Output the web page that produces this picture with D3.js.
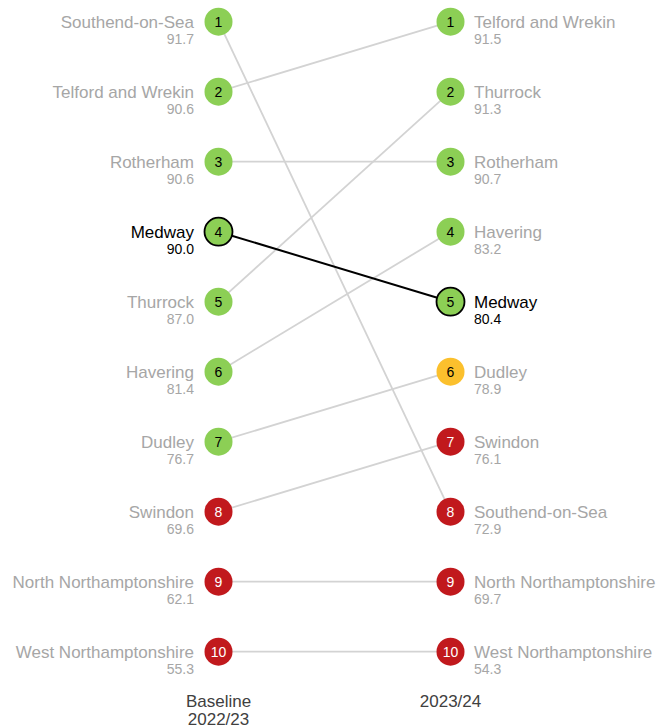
<!DOCTYPE html>
<html lang="en">
<head>
<meta charset="UTF-8">
<title>Slope chart</title>
<script src="https://cdn.jsdelivr.net/npm/d3@7"></script>
<style>
    body {
        margin: 0;
        background-color: white;
    }
    body * {
        font-family: "Liberation Sans", Arial, sans-serif;
    }
    .name { font-size: 17px; fill: #a6a6a6; }
    .value { font-size: 14px; fill: #a6a6a6; }
    .hl .name, .hl .value { fill: #000; }
    .rank { font-size: 14px; }
    .period { font-size: 17px; fill: #404040; }
</style>
</head>
<body>
<svg width="657" height="728"></svg>
<script>
    // authorities, in baseline order
    var authorities = ["Southend-on-Sea", "Telford and Wrekin", "Rotherham", "Medway", "Thurrock",
        "Havering", "Dudley", "Swindon", "North Northamptonshire", "West Northamptonshire"];
    var baseValue = [91.7, 90.6, 90.6, 90.0, 87.0, 81.4, 76.7, 69.6, 62.1, 55.3];
    var baseRank = [1, 2, 3, 4, 5, 6, 7, 8, 9, 10];
    var baseRag = ["G", "G", "G", "G", "G", "G", "G", "R", "R", "R"];
    var currValue = [72.9, 91.5, 90.7, 80.4, 91.3, 83.2, 78.9, 76.1, 69.7, 54.3];
    var currRank = [8, 1, 3, 5, 2, 4, 6, 7, 9, 10];
    var currRag = ["R", "G", "G", "G", "G", "G", "A", "R", "R", "R"];
    var periods = ["Baseline|2022/23", "2023/24"];
    var highlight = "Medway";

    var ragFill = {G: "#8ccf55", A: "#fbc02d", R: "#c1191d"};
    var ragText = {G: "#000", A: "#000", R: "#fff"};

    var svg = d3.select("svg");

    var getX = d3.scalePoint()
            .domain(periods)
            .range([218.5, 450.5]);
    var getY = d3.scaleLinear()
            .domain([1, 10])
            .range([21.7, 651.7]);

    var data = authorities.map(function (a, i) {
        return {
            name: a,
            pts: [
                {p: periods[0], rank: baseRank[i], value: baseValue[i], rag: baseRag[i]},
                {p: periods[1], rank: currRank[i], value: currValue[i], rag: currRag[i]}
            ]
        };
    });
    // draw highlighted last so it sits on top
    data.sort(function (a, b) {
        return (a.name === highlight) - (b.name === highlight);
    });

    svg.append("g").selectAll("line")
            .data(data)
            .enter()
            .append("line")
            .attr("x1", function (d) { return getX(d.pts[0].p); })
            .attr("y1", function (d) { return getY(d.pts[0].rank); })
            .attr("x2", function (d) { return getX(d.pts[1].p); })
            .attr("y2", function (d) { return getY(d.pts[1].rank); })
            .attr("stroke", function (d) { return d.name === highlight ? "#000" : "#d3d3d3"; })
            .attr("stroke-width", function (d) { return d.name === highlight ? 2 : 1.8; });

    var points = [];
    data.forEach(function (d) {
        d.pts.forEach(function (p, j) {
            points.push({name: d.name, side: j, p: p.p, rank: p.rank, value: p.value, rag: p.rag});
        });
    });

    var g = svg.append("g").selectAll("g")
            .data(points)
            .enter()
            .append("g")
            .attr("class", function (d) { return d.name === highlight ? "hl" : null; })
            .attr("transform", function (d) {
                return "translate(" + getX(d.p) + "," + getY(d.rank) + ")";
            });

    g.append("circle")
            .attr("r", 14)
            .attr("fill", function (d) { return ragFill[d.rag]; })
            .attr("stroke", function (d) { return d.name === highlight ? "#000" : "none"; })
            .attr("stroke-width", 1.8);

    g.append("text")
            .attr("class", "rank")
            .attr("text-anchor", "middle")
            .attr("dy", "0.36em")
            .attr("fill", function (d) { return ragText[d.rag]; })
            .text(function (d) { return d.rank; });

    g.append("text")
            .attr("class", "name")
            .attr("text-anchor", function (d) { return d.side === 0 ? "end" : "start"; })
            .attr("x", function (d) { return d.side === 0 ? -24.5 : 23.5; })
            .attr("y", 6)
            .text(function (d) { return d.name; });

    g.append("text")
            .attr("class", "value")
            .attr("text-anchor", function (d) { return d.side === 0 ? "end" : "start"; })
            .attr("x", function (d) { return d.side === 0 ? -24.5 : 23.5; })
            .attr("y", 22.5)
            .text(function (d) { return d.value.toFixed(1); });

    var pl = svg.append("g").selectAll("text")
            .data(periods)
            .enter()
            .append("text")
            .attr("class", "period")
            .attr("text-anchor", "middle")
            .attr("y", 706.5);
    pl.selectAll("tspan")
            .data(function (d) {
                return d.split("|").map(function (t) { return {t: t, x: getX(d)}; });
            })
            .enter()
            .append("tspan")
            .attr("x", function (d) { return d.x; })
            .attr("dy", function (d, i) { return i === 0 ? 0 : 18; })
            .text(function (d) { return d.t; });
</script>
</body>
</html>
